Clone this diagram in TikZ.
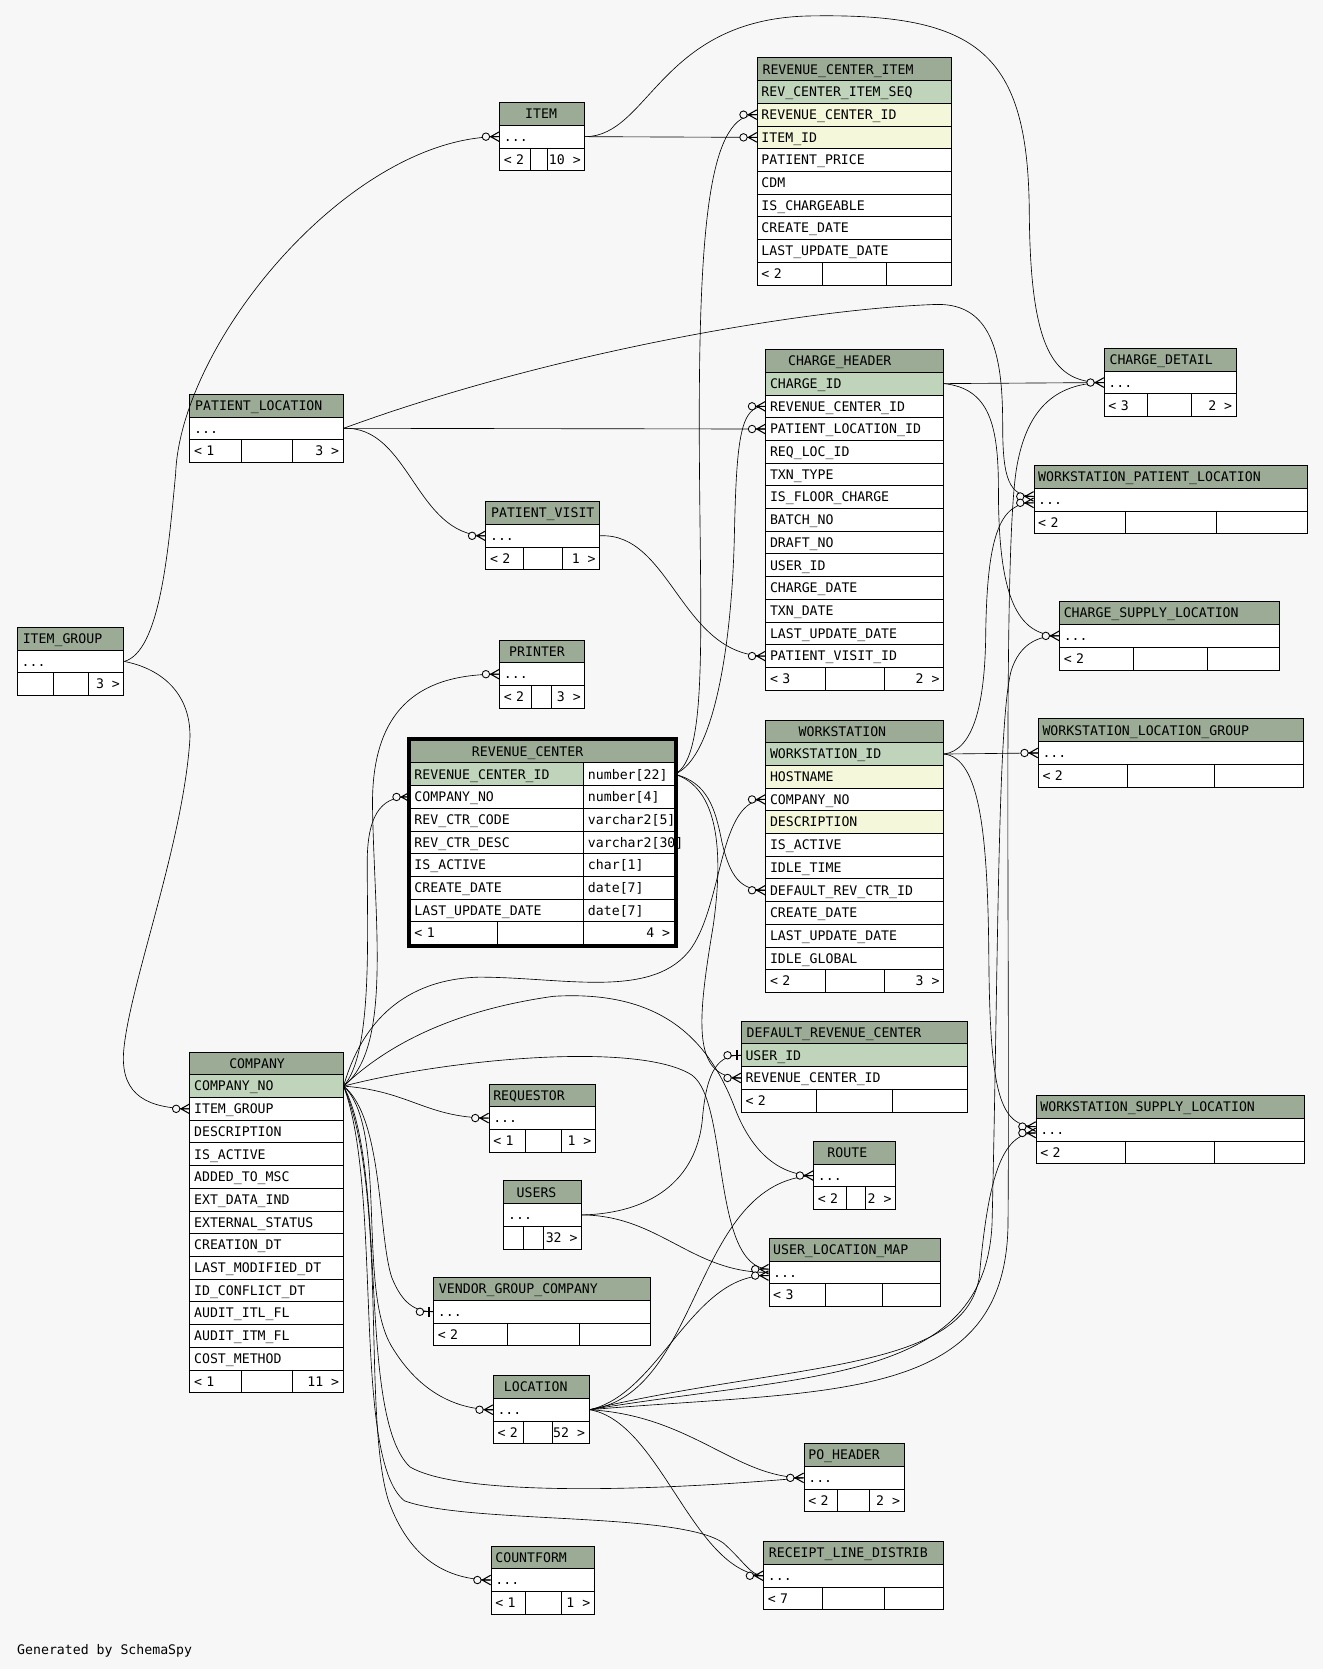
\documentclass[tikz,border=0pt]{standalone}
\usepackage{fontspec}
\setmainfont{DejaVu Sans Mono}

\definecolor{bgcol}{HTML}{F7F7F7}
\definecolor{hdrgreen}{HTML}{9BAB96}
\definecolor{pkgreen}{HTML}{BFD4BB}
\definecolor{fkyellow}{HTML}{F4F7DA}

\newcommand{\rowh}{21.33}
\newcommand{\dotrow}{...}
\newcommand{\tblfont}{\fontsize{12.4pt}{14pt}\selectfont}

\tikzset{
  tblline/.style={line width=0.8pt},
  tblhead/.style={draw, line width=0.8pt, fill=hdrgreen, anchor=north west, font=\tblfont,
    inner xsep=4pt, inner ysep=0pt, minimum height=21.33pt, text height=9pt, text depth=0pt, align=left},
  tblrow/.style={draw, line width=0.8pt, fill=white, anchor=north west, font=\tblfont,
    inner xsep=4pt, inner ysep=0pt, minimum height=21.33pt, text height=9pt, text depth=0pt, align=left},
  foottxt/.style={anchor=east, font=\tblfont, inner xsep=4pt, inner ysep=0pt, text height=9pt, text depth=0pt},
  fkline/.style={line width=0.6pt},
  crowfoot/.pic={
    \draw[line width=1pt] (-8,0) -- (0,-4.5) (-8,0) -- (0,4.5) (-9,0) -- (0,0);
    \draw[line width=0.8pt, fill=bgcol] (-12.5,0) circle (3.5pt);
  },
  onebar/.pic={
    \draw[line width=0.8pt] (-9,0) -- (0,0);
    \draw[line width=1.8pt] (-4,-4.5) -- (-4,4.5);
    \draw[line width=0.8pt, fill=bgcol] (-12.5,0) circle (3.5pt);
  }
}

% table: name, x, y, width, title shift, title, rows (text/colour), row count, footer (div1/div2/left/right)
\newcommand{\dbtable}[9]{%
  \node[tblhead, text width=#4pt-8pt] (#1) at (#2,#3) {\hspace*{#5pt}#6};
  \foreach \txt/\kind [count=\i] in {#7}
    \node[tblrow, fill=\kind, text width=#4pt-8pt] (#1-\i) at (#2,#3+\i*\rowh) {\mbox{\txt}};
  \foreach \da/\db/\lt/\rt in {#9} {
    \node[tblrow, text width=#4pt-8pt] (#1-foot) at (#2,#3+#8*\rowh+\rowh) {\mbox{\lt}};
    \node[foottxt] at (#1-foot.east) {\rt};
    \draw[tblline] (\da,#3+#8*\rowh+\rowh) -- ++(0,\rowh);
    \draw[tblline] (\db,#3+#8*\rowh+\rowh) -- ++(0,\rowh);
  }
}

\begin{document}
\begin{tikzpicture}[x=1pt, y=-1pt]

    \fill[bgcol] (0,0) rectangle (1243,1568);
    \useasboundingbox (0,0) rectangle (1243,1568);

    % --- tables, top to bottom ---
    \dbtable{rci}{711}{54}{182}{1}{REVENUE\_CENTER\_ITEM}{REV\_CENTER\_ITEM\_SEQ/pkgreen, REVENUE\_CENTER\_ID/fkyellow,
      ITEM\_ID/fkyellow, PATIENT\_PRICE/white, CDM/white, IS\_CHARGEABLE/white, CREATE\_DATE/white,
      LAST\_UPDATE\_DATE/white}{8}{773/833/< 2/{}}
    \dbtable{item}{469}{96}{80}{20}{ITEM}{\dotrow/white}{1}{498/514/< 2/10 >}
    \dbtable{patloc}{178}{370}{144}{1}{PATIENT\_LOCATION}{\dotrow/white}{1}{227/275/< 1/3 >}
    \dbtable{chdr}{719}{328}{167}{17}{CHARGE\_HEADER}{CHARGE\_ID/pkgreen, REVENUE\_CENTER\_ID/white,
      PATIENT\_LOCATION\_ID/white, REQ\_LOC\_ID/white, TXN\_TYPE/white, IS\_FLOOR\_CHARGE/white, BATCH\_NO/white,
      DRAFT\_NO/white, USER\_ID/white, CHARGE\_DATE/white, TXN\_DATE/white, LAST\_UPDATE\_DATE/white,
      PATIENT\_VISIT\_ID/white}{13}{775/831/< 3/2 >}
    \dbtable{chdet}{1037}{327}{124}{1}{CHARGE\_DETAIL}{\dotrow/white}{1}{1078/1119/< 3/2 >}
    \dbtable{wpl}{971}{437}{257}{0}{WORKSTATION\_PATIENT\_LOCATION}{\dotrow/white}{1}{1057/1143/< 2/{}}
    \dbtable{csl}{995}{565}{207}{0}{CHARGE\_SUPPLY\_LOCATION}{\dotrow/white}{1}{1065/1134/< 2/{}}
    \dbtable{pvisit}{456}{471}{107}{1}{PATIENT\_VISIT}{\dotrow/white}{1}{492/528/< 2/1 >}
    \dbtable{igroup}{16}{589}{100}{1}{ITEM\_GROUP}{\dotrow/white}{1}{50/83/{}/3 >}
    \dbtable{printer}{469}{601}{80}{5}{PRINTER}{\dotrow/white}{1}{499/518/< 2/3 >}
    \dbtable{ws}{719}{676}{167}{27}{WORKSTATION}{WORKSTATION\_ID/pkgreen, HOSTNAME/fkyellow, COMPANY\_NO/white,
      DESCRIPTION/fkyellow, IS\_ACTIVE/white, IDLE\_TIME/white, DEFAULT\_REV\_CTR\_ID/white, CREATE\_DATE/white,
      LAST\_UPDATE\_DATE/white, IDLE\_GLOBAL/white}{10}{775/831/< 2/3 >}
    \dbtable{wlg}{975}{675}{249}{0}{WORKSTATION\_LOCATION\_GROUP}{\dotrow/white}{1}{1059/1141/< 2/{}}
    \dbtable{drc}{696}{959}{212}{1}{DEFAULT\_REVENUE\_CENTER}{USER\_ID/pkgreen, REVENUE\_CENTER\_ID/white}{2}{767/838/< 2/{}}
    \dbtable{comp}{178}{988}{144}{33}{COMPANY}{COMPANY\_NO/pkgreen, ITEM\_GROUP/white, DESCRIPTION/white,
      IS\_ACTIVE/white, ADDED\_TO\_MSC/white, EXT\_DATA\_IND/white, EXTERNAL\_STATUS/white, CREATION\_DT/white,
      LAST\_MODIFIED\_DT/white, ID\_CONFLICT\_DT/white, AUDIT\_ITL\_FL/white, AUDIT\_ITM\_FL/white,
      COST\_METHOD/white}{13}{227/275/< 1/11 >}
    \dbtable{req}{459}{1018}{100}{0}{REQUESTOR}{\dotrow/white}{1}{494/527/< 1/1 >}
    \dbtable{wsl}{973}{1029}{252}{0}{WORKSTATION\_SUPPLY\_LOCATION}{\dotrow/white}{1}{1057/1141/< 2/{}}
    \dbtable{route}{764}{1072}{77}{9}{ROUTE}{\dotrow/white}{1}{795/813/< 2/2 >}
    \dbtable{users}{473}{1109}{73}{8}{USERS}{\dotrow/white}{1}{492/511/{}/32 >}
    \dbtable{ulm}{722}{1163}{161}{0}{USER\_LOCATION\_MAP}{\dotrow/white}{1}{775/829/< 3/{}}
    \dbtable{vgc}{407}{1200}{204}{1}{VENDOR\_GROUP\_COMPANY}{\dotrow/white}{1}{477/544/< 2/{}}
    \dbtable{loc}{463}{1292}{90}{6}{LOCATION}{\dotrow/white}{1}{492/519/< 2/52 >}
    \dbtable{poh}{755}{1356}{94}{0}{PO\_HEADER}{\dotrow/white}{1}{787/817/< 2/2 >}
    \dbtable{rld}{717}{1448}{169}{1}{RECEIPT\_LINE\_DISTRIB}{\dotrow/white}{1}{773/831/< 7/{}}
    \dbtable{cform}{461}{1452}{97}{0}{COUNTFORM}{\dotrow/white}{1}{494/527/< 1/1 >}

    % --- the selected table, with column types ---
    \node[tblhead, text width=240pt] (rc) at (385,695) {\hspace*{54pt}REVENUE\_CENTER};
    \foreach \txt/\kind/\typ [count=\i] in {REVENUE\_CENTER\_ID/pkgreen/number[22], COMPANY\_NO/white/number[4],
        REV\_CTR\_CODE/white/varchar2[5], REV\_CTR\_DESC/white/varchar2[30], IS\_ACTIVE/white/char[1],
        CREATE\_DATE/white/date[7], LAST\_UPDATE\_DATE/white/date[7]} {
      \node[tblrow, fill=\kind, text width=155pt] (rc-\i) at (385,695+\i*\rowh) {\mbox{\txt}};
      \node[tblrow, text width=77pt] (rc-\i-type) at (548,695+\i*\rowh) {\mbox{\typ}};
    }
    \node[tblrow, text width=240pt] (rc-foot) at (385,695+8*\rowh) {< 1};
    \node[foottxt] at (rc-foot.east) {4 >};
    \draw[tblline] (467,695+8*\rowh) -- ++(0,\rowh);
    \draw[tblline] (548,695+8*\rowh) -- ++(0,\rowh);
    \draw[line width=3pt] ([shift={(-1.5,-1.5)}]rc.north west) rectangle ([shift={(1.5,1.5)}]rc-foot.south east);

    % --- relationships ---
    \begin{scope}[fkline]
    \draw (igroup-1.east) .. controls (150,612) and (158,520) .. (165,445) .. controls (170,320) and (330,128) .. (item-1.west);
    \draw (igroup-1.east) .. controls (160,630) and (182,660) .. (178,700) .. controls (170,800) and (120,930) .. (116,990) .. controls (114,1030) and (140,1041) .. (comp-2.west);
    \draw (item-1.east) -- (rci-3.west);
    \draw (item-1.east) .. controls (610,128) and (620,18) .. (760,15) .. controls (920,12) and (966,50) .. (967,200) .. controls (968,330) and (990,360) .. (chdet-1.west);

    \draw (rc-1-type.east) .. controls (665,712) and (658,600) .. (657,420) .. controls (656,200) and (668,107) .. (rci-2.west);
    \draw (rc-1-type.east) .. controls (672,712) and (688,600) .. (690,500) .. controls (692,410) and (696,381) .. (chdr-2.west);
    \draw (rc-1-type.east) .. controls (665,735) and (672,760) .. (678,790) .. controls (686,825) and (696,836) .. (ws-7.west);
    \draw (rc-1-type.east) .. controls (675,740) and (680,800) .. (670,870) .. controls (655,960) and (650,1012) .. (drc-2.west);

    \draw (patloc-1.east) -- (chdr-3.west);
    \draw (patloc-1.east) .. controls (385,400) and (390,503) .. (pvisit-1.west);
    \draw (patloc-1.east) .. controls (520,330) and (760,290) .. (880,286) .. controls (935,285) and (942,340) .. (942,400) .. controls (942,450) and (948,466) .. ([yshift=3pt]wpl-1.west);
    \draw (pvisit-1.east) .. controls (630,500) and (640,616) .. (chdr-13.west);

    \draw (chdr-1.east) -- (chdet-1.west);
    \draw (chdr-1.east) .. controls (930,365) and (938,400) .. (938,460) .. controls (938,560) and (955,597) .. (csl-1.west);
    \draw (ws-1.east) -- (wlg-1.west);
    \draw (ws-1.east) .. controls (915,705) and (925,660) .. (926,600) .. controls (927,500) and (940,472) .. ([yshift=-3pt]wpl-1.west);
    \draw (ws-1.east) .. controls (920,712) and (928,780) .. (929,900) .. controls (930,1030) and (940,1058) .. ([yshift=3pt]wsl-1.west);

    \draw (comp-1.east) .. controls (350,990) and (345,880) .. (345,810) .. controls (345,760) and (362,748) .. (rc-2.west);
    \draw (comp-1.east) .. controls (368,985) and (352,870) .. (350,760) .. controls (348,660) and (400,633) .. (printer-1.west);
    \draw (comp-1.east) .. controls (340,960) and (380,920) .. (450,918) .. controls (530,918) and (615,940) .. (650,890) .. controls (680,845) and (675,751) .. (ws-3.west);
    \draw (comp-1.east) .. controls (360,985) and (420,950) .. (520,936) .. controls (620,930) and (665,975) .. (690,1040) .. controls (705,1080) and (730,1104) .. (route-1.west);
    \draw (comp-1.east) .. controls (420,995) and (600,978) .. (650,1010) .. controls (685,1035) and (668,1190) .. ([yshift=3pt]ulm-1.west);
    \draw (comp-1.east) .. controls (385,1025) and (400,1050) .. (req-1.west);
    \draw (comp-1.east) .. controls (360,1050) and (355,1160) .. (368,1200) .. controls (378,1225) and (390,1232) .. (vgc-1.west);
    \draw (comp-1.east) .. controls (365,1060) and (335,1210) .. (368,1265) .. controls (392,1305) and (425,1324) .. (loc-1.west);
    \draw (comp-1.east) .. controls (365,1100) and (335,1330) .. (385,1378) .. controls (430,1405) and (600,1402) .. (poh-1.west);
    \draw (comp-1.east) .. controls (360,1120) and (330,1370) .. (380,1410) .. controls (440,1432) and (640,1420) .. (680,1450) .. controls (700,1468) and (705,1480) .. (rld-1.west);
    \draw (comp-1.east) .. controls (365,1120) and (340,1330) .. (365,1410) .. controls (385,1465) and (420,1484) .. (cform-1.west);

    \draw (users-1.east) .. controls (610,1140) and (655,1110) .. (660,1050) .. controls (664,1005) and (675,991) .. (drc-1.west);
    \draw (users-1.east) .. controls (620,1142) and (650,1196) .. (ulm-1.west);

    \draw (loc-1.east) .. controls (620,1310) and (650,1196) .. ([yshift=-3pt]ulm-1.west);
    \draw (loc-1.east) .. controls (660,1310) and (650,1110) .. (route-1.west);
    \draw (loc-1.east) .. controls (650,1330) and (690,1388) .. (poh-1.west);
    \draw (loc-1.east) .. controls (620,1335) and (650,1475) .. (rld-1.west);
    \draw (loc-1.east) .. controls (760,1290) and (925,1300) .. (932,1150) .. controls (938,900) and (937,680) .. (950,630) .. controls (958,605) and (975,597) .. (csl-1.west);
    \draw (loc-1.east) .. controls (740,1280) and (905,1290) .. (920,1200) .. controls (928,1110) and (940,1064) .. ([yshift=-3pt]wsl-1.west);
    \draw (loc-1.east) .. controls (780,1305) and (945,1320) .. (947,1150) .. controls (949,900) and (942,520) .. (955,440) .. controls (965,380) and (995,360) .. (chdet-1.west);
    \end{scope}

    % --- ends at the child tables ---
    \foreach \n in {rci-2, rci-3, item-1, comp-2, chdr-2, chdr-3, chdr-13, pvisit-1, chdet-1, csl-1, wlg-1,
        ws-3, ws-7, drc-2, rc-2, printer-1, route-1, req-1, loc-1, poh-1, rld-1, cform-1}
      \pic at (\n.west) {crowfoot};
    \foreach \n in {wpl-1, wsl-1, ulm-1} {
      \pic at ([yshift=3pt]\n.west) {crowfoot};
      \pic at ([yshift=-3pt]\n.west) {crowfoot};
    }
    \foreach \n in {vgc-1, drc-1}
      \pic at (\n.west) {onebar};

    \node[anchor=west, font=\tblfont, inner sep=0pt] (credit) at (16,1551) {Generated by SchemaSpy};

\end{tikzpicture}
\end{document}
